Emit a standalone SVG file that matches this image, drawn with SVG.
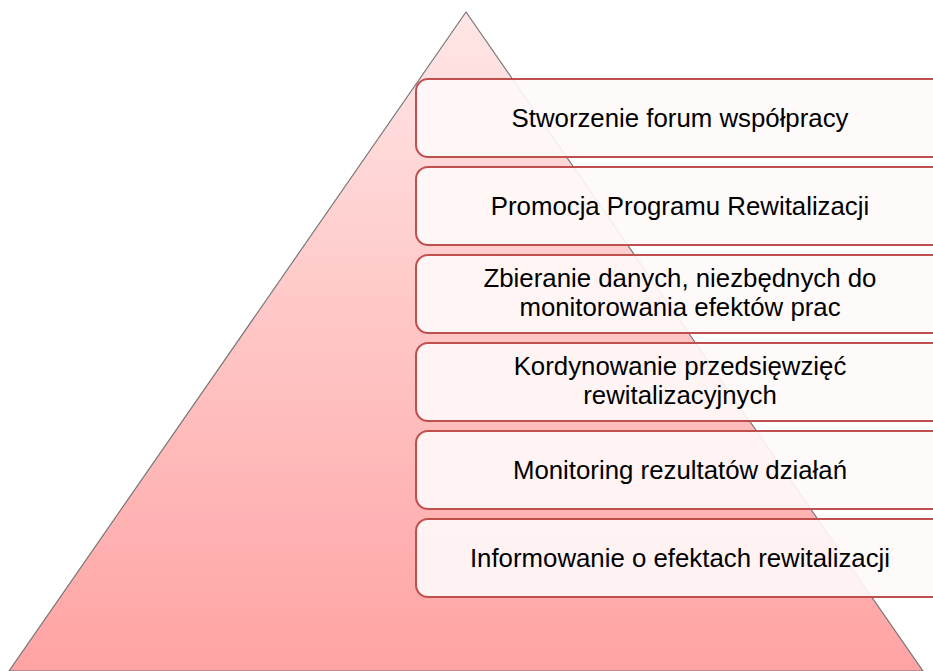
<svg xmlns="http://www.w3.org/2000/svg" width="933" height="671" viewBox="0 0 933 671">
<defs>
<linearGradient id="pg" x1="0" y1="0" x2="0" y2="1">
<stop offset="0" stop-color="#ffe6e6"/>
<stop offset="1" stop-color="#ffa3a3"/>
</linearGradient>
<style>
.box{fill:#fffafa;fill-opacity:0.9;stroke:#c0504d;stroke-width:2}
.t{font-family:"Liberation Sans",Arial,sans-serif;font-size:25.8px;fill:#000;text-anchor:middle}
</style>
</defs>
<g id="pyramid">
<polygon points="466,12 9,671 923,671" fill="url(#pg)" stroke="#777" stroke-width="1.2"/>
</g>
<g id="n1"><rect class="box" x="416" y="79" width="528" height="78" rx="12"/><text class="t" x="680" y="127">Stworzenie forum współpracy</text></g>
<g id="n2"><rect class="box" x="416" y="167" width="528" height="78" rx="12"/><text class="t" x="680" y="215">Promocja Programu Rewitalizacji</text></g>
<g id="n3"><rect class="box" x="416" y="255" width="528" height="78" rx="12"/><text class="t" x="680" y="287">Zbieranie danych, niezbędnych do</text><text class="t" x="680" y="316">monitorowania efektów prac</text></g>
<g id="n4"><rect class="box" x="416" y="343" width="528" height="78" rx="12"/><text class="t" x="680" y="375">Kordynowanie przedsięwzięć</text><text class="t" x="680" y="404">rewitalizacyjnych</text></g>
<g id="n5"><rect class="box" x="416" y="431" width="528" height="78" rx="12"/><text class="t" x="680" y="479">Monitoring rezultatów działań</text></g>
<g id="n6"><rect class="box" x="416" y="519" width="528" height="78" rx="12"/><text class="t" x="680" y="567">Informowanie o efektach rewitalizacji</text></g>
<g id="connectors"></g>
</svg>
